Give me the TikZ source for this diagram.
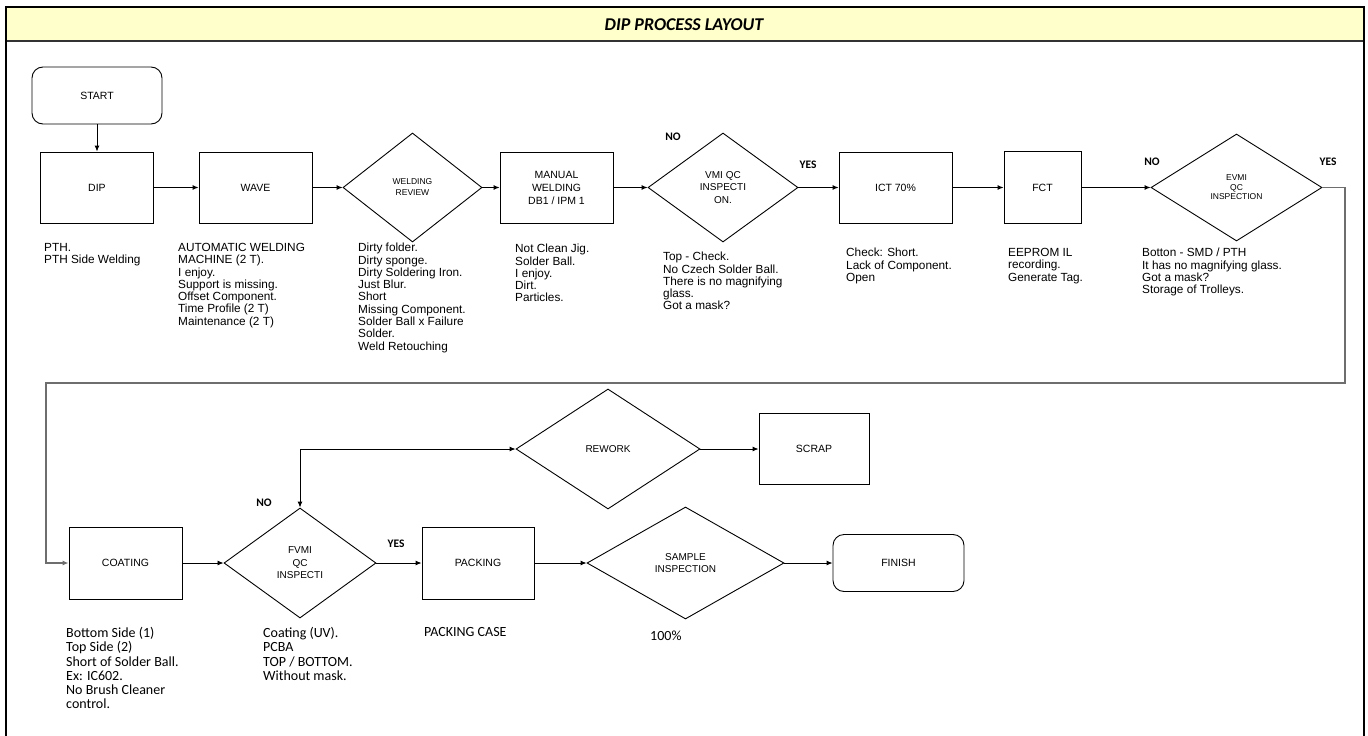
\documentclass[tikz,border=0pt]{standalone}
\usepackage{fontspec}
\setmainfont{Liberation Sans}
\newfontfamily\calibrilike{Carlito}
\usetikzlibrary{shapes.geometric,arrows.meta}
\definecolor{titlefill}{RGB}{255,255,204}
\definecolor{loopgray}{RGB}{110,110,110}
\begin{document}
\begin{tikzpicture}[x=1pt,y=-1pt,
  proc/.style={draw,line width=0.9pt,inner sep=0pt,align=center,minimum width=113pt,minimum height=71pt,font=\fontsize{10.5}{13}\selectfont},
  term/.style={proc,rounded corners=11pt,minimum width=130pt,minimum height=57pt},
  dec/.style={draw,diamond,line width=0.9pt,inner sep=0pt,align=center,font=\fontsize{10}{12.5}\selectfont},
  tip/.tip={Latex[length=6pt,width=5pt]},
  flow/.style={line width=0.9pt,-tip},
  loopline/.style={line width=1.4pt,draw=loopgray,-tip},
  note/.style={anchor=north west,inner sep=0pt,align=left,font=\fontsize{11.8}{12.3}\selectfont},
  cnote/.style={anchor=north west,inner sep=0pt,align=left,font=\calibrilike\fontsize{14}{14.3}\selectfont},
  yn/.style={inner sep=0pt,font=\calibrilike\bfseries\fontsize{11.5}{13}\selectfont}
]
\useasboundingbox (0,0) rectangle (1368,736);

% frame and title bar
\fill[titlefill] (6,7) rectangle (1364,41);
\draw[line width=1.2pt,draw=black!80] (6,41) -- (1364,41);
\draw[line width=2.6pt] (6,738) -- (6,7) -- (1364,7) -- (1364,738);
\node[font=\calibrilike\bfseries\itshape\fontsize{18}{20}\selectfont] (title) at (684,24.5) {DIP PROCESS LAYOUT};

% upper process line
\node[term] (start) at (97,95.5) {START};
\node[proc] (dip) at (97,187.5) {DIP};
\node[proc] (wave) at (255.5,187.5) {WAVE};
\node[dec,minimum width=139pt,minimum height=109pt,font=\fontsize{8.5}{11}\selectfont] (review) at (412.5,187.5) {WELDING\\REVIEW};
\node[proc] (manual) at (556.5,187.5) {MANUAL\\WELDING\\DB1 / IPM 1};
\node[dec,minimum width=150pt,minimum height=109pt] (vmi) at (723,187.5) {VMI QC\\INSPECTI\\ON.};
\node[proc] (ict) at (895.5,187.5) {ICT 70\%};
\node[proc,minimum width=77pt,minimum height=72pt] (fct) at (1042.5,187.5) {FCT};
\node[dec,minimum width=171pt,minimum height=107pt,font=\fontsize{8.5}{9.5}\selectfont] (evmi) at (1236.5,187.5) {EVMI\\QC\\INSPECTION};

% lower process line
\node[proc,minimum height=72pt] (coating) at (125.5,563) {COATING};
\node[dec,minimum width=152pt,minimum height=110pt] (fvmi) at (300,563) {FVMI\\QC\\INSPECTI};
\node[proc,minimum width=112pt,minimum height=72pt] (packing) at (478,563) {PACKING};
\node[dec,minimum width=197pt,minimum height=112pt] (sample) at (685.5,563) {SAMPLE\\INSPECTION};
\node[term,minimum width=131pt] (finish) at (898.5,563) {FINISH};
\node[dec,minimum width=184pt,minimum height=120pt] (rework) at (608,449) {REWORK};
\node[proc,minimum width=110pt,minimum height=71pt] (scrap) at (814,449) {SCRAP};

% connectors
\draw[flow] (start) -- (dip);
\draw[flow] (dip) -- (wave);
\draw[flow] (wave) -- (review);
\draw[flow] (review) -- (manual);
\draw[flow] (manual) -- (vmi);
\draw[flow] (vmi) -- (ict);
\draw[flow] (ict) -- (fct);
\draw[flow] (fct) -- (evmi);
\coordinate (loopR) at (1345,383);
\coordinate (loopL) at (46,383);
\draw[loopline] (evmi.east) -| (loopR) -- (loopL) |- (coating.west);
\draw[flow] (coating) -- (fvmi);
\draw[flow] (fvmi) -- (packing);
\draw[flow] (packing) -- (sample);
\draw[flow] (sample) -- (finish);
\draw[flow,tip-tip] (fvmi.north) |- (rework.west);
\draw[flow] (rework) -- (scrap);

% decision labels
\node[yn] (vmino) at (673,137) {NO};
\node[yn] (vmiyes) at (808,165) {YES};
\node[yn] (evmino) at (1152,162) {NO};
\node[yn] (evmiyes) at (1328,162) {YES};
\node[yn] (fvmino) at (264,503) {NO};
\node[yn] (fvmiyes) at (396,544) {YES};

% notes under the upper steps
\node[note] (dipnote) at (44,243) {PTH.\\PTH Side Welding};
\node[note] (wavenote) at (178,243) {AUTOMATIC WELDING\\MACHINE (2 T).\\I enjoy.\\Support is missing.\\Offset Component.\\Time Profile (2 T)\\Maintenance (2 T)};
\node[note] (reviewnote) at (358,243) {Dirty folder.\\Dirty sponge.\\Dirty Soldering Iron.\\Just Blur.\\Short\\Missing Component.\\Solder Ball x Failure\\Solder.\\Weld Retouching};
\node[note] (manualnote) at (515,244) {Not Clean Jig.\\Solder Ball.\\I enjoy.\\Dirt.\\Particles.};
\node[note] (vminote) at (663,252) {Top - Check.\\No Czech Solder Ball.\\There is no magnifying\\glass.\\Got a mask?};
\node[note] (ictnote) at (846,248) {Check: Short.\\Lack of Component.\\Open};
\node[note] (fctnote) at (1008,248) {EEPROM IL\\recording.\\Generate Tag.};
\node[note] (evminote) at (1142,248) {Botton - SMD / PTH\\It has no magnifying glass.\\Got a mask?\\Storage of Trolleys.};

% notes under the lower steps
\node[cnote] (coatingnote) at (66,627) {Bottom Side (1)\\Top Side (2)\\Short of Solder Ball.\\Ex: IC602.\\No Brush Cleaner\\control.};
\node[cnote] (fvminote) at (263,627) {Coating (UV).\\PCBA\\TOP / BOTTOM.\\Without mask.};
\node[cnote] (packingnote) at (424,627) {PACKING CASE};
\node[cnote] (samplenote) at (650,631) {100\%};
\end{tikzpicture}
\end{document}
